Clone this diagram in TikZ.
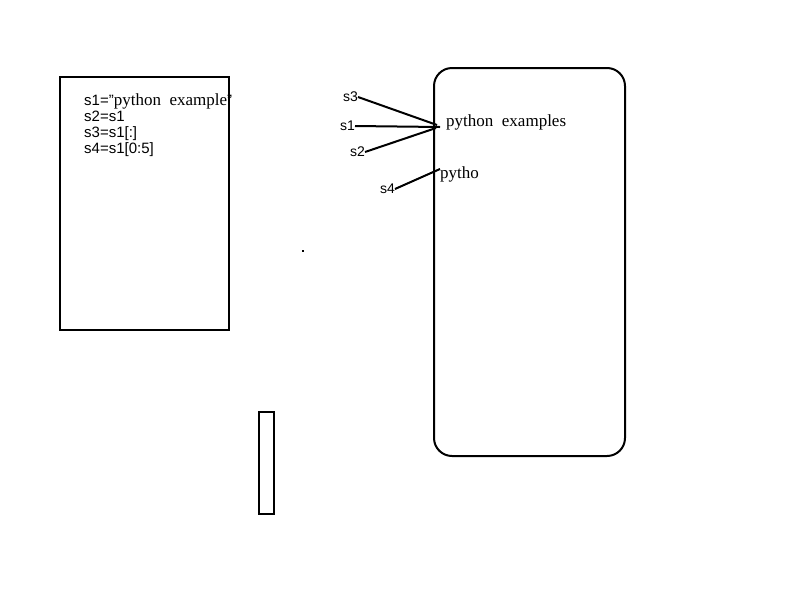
\documentclass[tikz,border=0pt]{standalone}
\usepackage{fontspec}
\setmainfont{Liberation Serif}
\setsansfont{Liberation Sans}
\begin{document}
\begin{tikzpicture}[x=1pt,y=-1pt,
  box/.style={draw,line width=2pt},
  lab/.style={inner sep=0pt,font=\fontsize{14}{14}\sffamily},
  code/.style={inner sep=0pt,anchor=base west,font=\fontsize{15}{15}\sffamily},
  val/.style={inner sep=0pt,anchor=base west,font=\fontsize{17}{17}\rmfamily},
  conn/.style={line width=2pt}]
\useasboundingbox (0,0) rectangle (800,600);
% left code box
\draw[box] (60,77) rectangle (229,330);
\node[code] (c1) at (84,105) {s1="\rmfamily\fontsize{17}{17}\selectfont python\ \ example\sffamily\fontsize{15}{15}\selectfont "};
\node[code] (c2) at (84,121) {s2=s1};
\node[code] (c3) at (84,137) {s3=s1[:]};
\node[code] (c4) at (84,153) {s4=s1[0:5]};
% rounded box
\draw[box,rounded corners=18pt] (434,68) rectangle (625,456);
\node[val] (v1) at (446,126) {python\ \ examples};
\node[val] (v2) at (440,178) {pytho};
% labels
\node[lab,anchor=east] (s3) at (358,97) {s3};
\node[lab,anchor=east] (s1) at (355,126) {s1};
\node[lab,anchor=east] (s2) at (365,152) {s2};
\node[lab,anchor=east] (s4) at (395,189) {s4};
\coordinate (t3) at (437,125);
\coordinate (t1) at (440,127);
\coordinate (t2) at (436,128);
\coordinate (t4) at (440,169);
\draw[conn] (s3.east) -- (t3);
\draw[conn] (s1.east) -- (t1);
\draw[conn] (s2.east) -- (t2);
\draw[conn] (s4.east) -- (t4);
% dot
\fill (302,250) rectangle (304,252);
% thin rectangle
\draw[box] (259,412) rectangle (274,514);
\end{tikzpicture}
\end{document}
